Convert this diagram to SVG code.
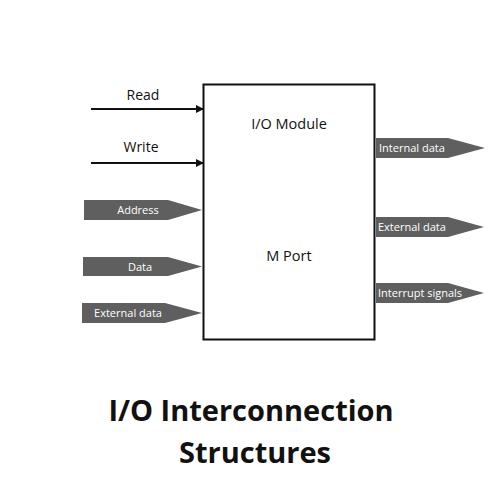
<svg xmlns="http://www.w3.org/2000/svg" width="500" height="500" viewBox="0 0 500 500">
<defs>
<style>
.t{font-family:"Open Sans","Liberation Sans",sans-serif;fill:#111}
.w{font-family:"Open Sans","Liberation Sans",sans-serif;fill:#fff;font-size:11px}
.tag{fill:#5f5f5f}
.ln{stroke:#111;stroke-width:2;fill:none}
</style>
<marker id="ah" markerWidth="8" markerHeight="8" refX="7" refY="4" orient="auto" markerUnits="userSpaceOnUse">
<path d="M0,0 L8,4 L0,8 Z" fill="#111"/>
</marker>
</defs>
<rect width="500" height="500" fill="#fff"/>
<g id="module">
<rect x="203.5" y="84.5" width="171" height="255" fill="#fff" stroke="#111" stroke-width="2"/>
<text class="t" x="289" y="129" font-size="14.5" text-anchor="middle">I/O Module</text>
<text class="t" x="289" y="261" font-size="14.5" text-anchor="middle">M Port</text>
</g>
<g id="connectors">
<line class="ln" x1="91" y1="109" x2="203" y2="109" marker-end="url(#ah)"/>
<line class="ln" x1="91" y1="163" x2="203" y2="163" marker-end="url(#ah)"/>
</g>
<g id="read"><text class="t" x="143" y="100" font-size="14" text-anchor="middle">Read</text></g>
<g id="write"><text class="t" x="141" y="152" font-size="14" text-anchor="middle">Write</text></g>
<g id="address">
<polygon class="tag" points="84,200 168,200 202,210 168,220 84,220"/>
<text class="w" x="138" y="214" text-anchor="middle" font-size="11.5">Address</text>
</g>
<g id="data">
<polygon class="tag" points="83,257 168,257 202,266.5 168,276 83,276"/>
<text class="w" x="140" y="270.5" text-anchor="middle" font-size="11.5">Data</text>
</g>
<g id="external-data-in">
<polygon class="tag" points="82,303 165,303 202,313 165,323 82,323"/>
<text class="w" x="128" y="317" text-anchor="middle" font-size="11.5">External data</text>
</g>
<g id="internal-data">
<polygon class="tag" points="376,138 448,138 485,148 448,158 376,158"/>
<text class="w" x="379" y="151.5" font-size="10.5">Internal data</text>
</g>
<g id="external-data-out">
<polygon class="tag" points="376,217 448,217 484,227 448,237 376,237"/>
<text class="w" x="378" y="231">External data</text>
</g>
<g id="interrupt-signals">
<polygon class="tag" points="376,283 448,283 484,293 448,303 376,303"/>
<text class="w" x="378" y="297">Interrupt signals</text>
</g>
<g id="title">
<text class="t" x="251" y="421" font-size="29" font-weight="bold" text-anchor="middle">I/O Interconnection</text>
<text class="t" x="255" y="463" font-size="29" font-weight="bold" text-anchor="middle">Structures</text>
</g>
</svg>
